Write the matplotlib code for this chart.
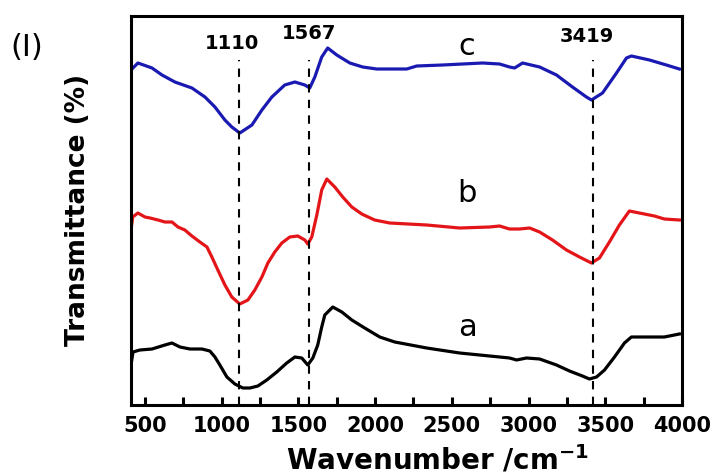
import matplotlib
matplotlib.use("Agg")
import matplotlib.pyplot as plt
from matplotlib.ticker import MultipleLocator

# ---- data (wavenumber in cm^-1, transmittance in arbitrary offset units) ----
wn_a = [409, 422, 467, 546, 630, 676, 728, 793, 871, 923, 956, 988, 1034, 1086,
        1138, 1184, 1236, 1294, 1359, 1424, 1477, 1522, 1561, 1594, 1626, 1652,
        1672, 1724, 1783, 1848, 1932, 2030, 2128, 2336, 2551, 2746, 2876, 2922,
        2987, 3072, 3182, 3267, 3351, 3397, 3443, 3495, 3560, 3625, 3670, 3788,
        3885, 3983]
tr_a = [40, 53, 55, 56, 60, 62, 58, 56, 56, 54, 48, 40, 28, 21,
        17, 17, 19, 25, 33, 42, 48, 47, 40, 47, 60, 78,
        90, 98, 93, 85, 77, 68, 63, 57, 52, 49, 47, 45,
        47, 46, 40, 34, 29, 26, 28, 35, 48, 62, 68, 68,
        68, 71]

wn_b = [409, 420, 454, 500, 533, 585, 630, 676, 715, 760, 806, 858, 904, 936,
        975, 1021, 1066, 1118, 1171, 1216, 1262, 1301, 1346, 1392, 1444, 1496,
        1542, 1561, 1587, 1620, 1652, 1685, 1737, 1789, 1848, 1913, 1997, 2095,
        2336, 2551, 2746, 2811, 2876, 2941, 3007, 3072, 3156, 3247, 3332, 3410,
        3462, 3527, 3592, 3657, 3722, 3820, 3885, 3983]
tr_b = [175, 188, 192, 188, 187, 185, 183, 183, 178, 175, 169, 163, 158, 148,
        135, 120, 108, 101, 105, 115, 128, 142, 153, 162, 168, 169,
        165, 161, 168, 190, 215, 226, 218, 208, 198, 191, 185, 182,
        180, 177, 178, 179, 176, 176, 177, 173, 165, 155, 148, 142,
        147, 163, 180, 194, 192, 189, 186, 185]

wn_c = [409, 454, 546, 611, 695, 806, 891, 956, 1021, 1066, 1118, 1197, 1262,
        1327, 1411, 1477, 1542, 1574, 1607, 1652, 1691, 1750, 1835, 1919, 2010,
        2206, 2271, 2440, 2700, 2811, 2876, 2909, 2961, 3072, 3182, 3286, 3377,
        3410, 3482, 3573, 3638, 3670, 3788, 3898, 3983]
tr_c = [335, 342, 337, 330, 323, 317, 308, 298, 285, 278, 272, 280, 295,
        308, 320, 323, 320, 317, 328, 348, 357, 350, 342, 338, 336,
        336, 339, 340, 342, 341, 338, 337, 342, 338, 330, 318, 308,
        305, 312, 332, 347, 349, 345, 340, 336]

peaks = [1110, 1567, 3419]
peak_labels = ["1110", "1567", "3419"]
curve_labels = ["a", "b", "c"]

W, H = 713, 476
fig = plt.figure(figsize=(W / 100, H / 100), dpi=100)
ax = fig.add_axes([131 / W, 1 - 405 / H, (682 - 131) / W, (405 - 16) / H])

ax.plot(wn_a, tr_a, color="black", lw=2.3, solid_joinstyle="round")
ax.plot(wn_b, tr_b, color="#e41519", lw=2.3, solid_joinstyle="round")
ax.plot(wn_c, tr_c, color="#1a1ab2", lw=2.3, solid_joinstyle="round")

ax.set_xlim(409, 4000)
ax.set_ylim(0, 389)

ax.vlines(peaks, 0, 345, colors="black", linestyles=(0, (4, 3.5)), lw=1.5)

label_pos = [(1070, 362), (1567, 372), (3379, 369)]
for (x, y), t in zip(label_pos, peak_labels):
    ax.text(x, y, t, ha="center", va="center", fontsize=14, fontweight="bold",
            family="DejaVu Sans")

for t, y in zip(curve_labels, [77, 212, 359]):
    ax.text(2600, y, t, ha="center", va="center", fontsize=22, family="DejaVu Sans")

ax.xaxis.set_major_locator(MultipleLocator(500))
ax.xaxis.set_minor_locator(MultipleLocator(250))
ax.tick_params(axis="x", which="both", direction="in", length=6, width=2.2,
               top=False, labelsize=15, pad=8)
ax.set_yticks([])
for lab in ax.get_xticklabels():
    lab.set_fontweight("bold")
for s in ax.spines.values():
    s.set_linewidth(2.2)

fig.text(438 / W, 1 - 460 / H, r"Wavenumber /cm$^{\mathbf{-1}}$", ha="center", va="center",
         fontsize=20, fontweight="bold")
fig.text(78 / W, 1 - 210 / H, "Transmittance (%)", rotation=90, ha="center",
         va="center", fontsize=19, fontweight="bold")
fig.text(27 / W, 1 - 47 / H, "(I)", ha="center", va="center", fontsize=22)

fig.savefig("out.png", dpi=100)
